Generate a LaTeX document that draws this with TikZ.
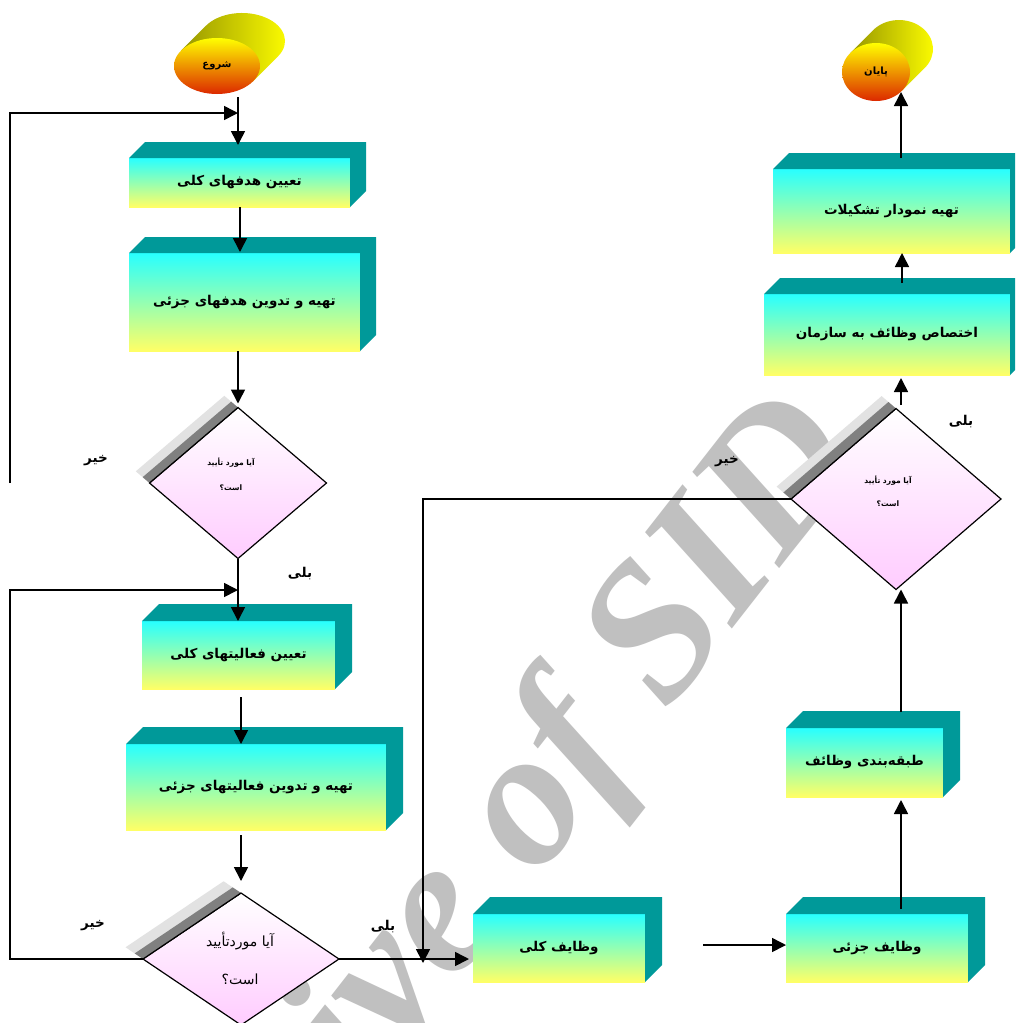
\documentclass[tikz,border=0pt]{standalone}
\usepackage{fontspec}
\usetikzlibrary{arrows.meta,calc,shapes.geometric}
\TeXXeTstate=1
\newfontfamily\arabicfont[Script=Arabic]{DejaVu Sans}
\newfontfamily\wmfont{Liberation Serif}
\definecolor{teal3d}{RGB}{0,153,153}
\definecolor{cyanT}{RGB}{40,255,255}
\definecolor{yelB}{RGB}{255,255,102}
\definecolor{pinkB}{RGB}{255,204,255}
\definecolor{shdark}{RGB}{128,128,128}
\definecolor{shlight}{RGB}{226,226,226}
\definecolor{wmgray}{RGB}{192,192,192}
\definecolor{olivec}{RGB}{150,150,0}
\definecolor{cylyel}{RGB}{255,255,0}
\definecolor{cylred}{RGB}{220,40,0}
\definecolor{cylorange}{RGB}{245,195,0}
\newcommand{\myboxfont}{\arabicfont\bfseries\fontsize{13.5}{15}\selectfont}
\newcommand{\mydiafont}{\arabicfont\bfseries\fontsize{7.6}{25}\selectfont}
\newcommand{\mydiafontb}{\arabicfont\fontsize{14}{38}\selectfont}
\newcommand{\mydiafontc}{\arabicfont\bfseries\fontsize{7.6}{23}\selectfont}
\newcommand{\faces}[2]{%
  \fill[teal3d] (#1.north west) -- ++(#2,-#2) -- ($(#1.north east)+(#2,-#2)$)
    -- ($(#1.south east)+(#2,-#2)$) -- (#1.south east) -- (#1.north east) -- cycle;}
\newcommand{\diashadow}[3]{%
  \fill[shlight] (#1.west) -- (#1.north) -- ($(#1.north)!-#3pt!(#1.east)$) -- ($(#1.west)!-#3pt!(#1.south)$) -- cycle;
  \fill[shdark] (#1.west) -- (#1.north) -- ($(#1.north)!-#2pt!(#1.east)$) -- ($(#1.west)!-#2pt!(#1.south)$) -- cycle;
  \draw[line width=1.2pt] (#1.west) -- (#1.north);}
\begin{document}
\begin{tikzpicture}[x=1pt,y=-1pt,
  arr/.style={line width=1.6pt, black, -{Triangle[length=14pt,width=14pt]}},
  plain/.style={line width=1.6pt, black},
  frontbox/.style={inner sep=0pt, outer sep=0pt, top color=cyanT, bottom color=yelB, font=\myboxfont, text=black},
  dia/.style={diamond, inner sep=0pt, outer sep=0pt, top color=white, bottom color=pinkB, draw=black, line width=1.2pt},
  lbl/.style={font=\myboxfont, inner sep=0pt},
  cylfront/.style={ellipse, inner sep=0pt, outer sep=0pt, top color=cylyel, middle color=cylorange, bottom color=cylred, font=\arabicfont\bfseries\fontsize{10}{12}\selectfont}]
\useasboundingbox (0,0) rectangle (1015,1023);
\clip (0,0) rectangle (1015,1023);
\fill[white] (0,0) rectangle (1015,1023);

% watermark
\node[rotate=52, text=wmgray, inner sep=0pt, font=\wmfont\bfseries\itshape\fontsize{195}{195}\selectfont] (wm) at (456,905) {Archive of SID};

% start cylinder
\shade[left color=olivec, right color=cylyel] ($(217,66)+(-36,-15.3)$) -- ($(242,41)+(-36,-15.3)$) arc[start angle=213.1, end angle=393.1, x radius=43, y radius=28] -- ($(217,66)+(36,15.3)$) -- cycle;
\node[cylfront, minimum width=86pt, minimum height=56pt] (start) at (217,66) {\beginR شروع\endR};

% end cylinder
\shade[left color=olivec, right color=cylyel] ($(876,72)+(-25.9,-18.8)$) -- ($(899,49)+(-25.9,-18.8)$) arc[start angle=220.46, end angle=400.46, x radius=34, y radius=29] -- ($(876,72)+(25.9,18.8)$) -- cycle;
\node[cylfront, minimum width=68pt, minimum height=58pt] (end) at (876,72) {\beginR پایان\endR};

% boxes
\node[frontbox, minimum width=221pt, minimum height=49pt] (b1) at (239.5,182.5) {\beginR تعیین هدفهای کلی\endR};
\faces{b1}{16}
\node[frontbox, minimum width=231pt, minimum height=98pt] (b2) at (244.5,302) {\beginR تهیه و تدوین هدفهای جزئی\endR};
\faces{b2}{16}
\node[frontbox, minimum width=193pt, minimum height=68pt] (b3) at (238.5,655) {\beginR تعیین فعالیتهای کلی\endR};
\faces{b3}{17}
\node[frontbox, minimum width=260pt, minimum height=86pt] (b4) at (256,787) {\beginR تهیه و تدوین فعالیتهای جزئی\endR};
\faces{b4}{17}
\node[frontbox, minimum width=172pt, minimum height=68pt] (b5) at (559,948) {\beginR وظایف کلی\endR};
\faces{b5}{17}
\node[frontbox, minimum width=182pt, minimum height=68pt] (b6) at (877,948) {\beginR وظایف جزئی\endR};
\faces{b6}{17}
\node[frontbox, minimum width=157pt, minimum height=69pt] (b7) at (864.5,762.5) {\beginR طبقه‌بندی وظائف\endR};
\faces{b7}{17}
\node[frontbox, minimum width=246pt, minimum height=81pt] (b8) at (887,334.5) {\beginR اختصاص وظائف به سازمان\endR};
\faces{b8}{16}
\node[frontbox, minimum width=237pt, minimum height=84pt] (b9) at (891.5,211) {\beginR تهیه نمودار تشکیلات\endR};
\faces{b9}{16}

% diamonds
\node[dia, minimum width=177pt, minimum height=151pt] (d1) at (238,483) {};
\diashadow{d1}{9}{18}
\node[font=\mydiafont, align=center, inner sep=0pt] (t1) at (231,474) {\beginR آیا مورد تأیید\endR\\\beginR است؟\endR};
\node[dia, minimum width=196pt, minimum height=132pt] (d2) at (241,959) {};
\diashadow{d2}{10}{21}
\node[font=\mydiafontb, align=center, inner sep=0pt] (t2) at (240,958) {\beginR آیا موردتأیید\endR\\\beginR است؟\endR};
\node[dia, minimum width=210pt, minimum height=181pt] (d3) at (896,499) {};
\diashadow{d3}{10}{19}
\node[font=\mydiafontc, align=center, inner sep=0pt] (t3) at (888,491) {\beginR آیا مورد تأیید\endR\\\beginR است؟\endR};

% connector end points
\coordinate (s0) at (238,97);
\coordinate (lp1a) at (10,483);
\coordinate (lp1b) at (10,113);
\coordinate (lp2) at (10,590);
\coordinate (c34) at (241,697);
\coordinate (c4d) at (241,835);
\coordinate (c4e) at (241,881);
\coordinate (c3) at (423,963);
\coordinate (c56) at (703,945);
\coordinate (c67) at (901,909);
\coordinate (c7) at (901,712);
\coordinate (c38) at (901,405);
\coordinate (c89) at (902,283);
\coordinate (c9e) at (901,158);
\coordinate (e9) at (901,92);

% connectors
\draw[arr] (s0) -- (238,145);
\draw[arr] (lp1a) -- (lp1b) -- (lp1b -| s0);
\draw[arr] (b1.south -| 240,0) -- (240,252);
\draw[arr, shorten >=4pt] (b2.south -| d1.north) -- (d1.north);
\draw[arr] (d1.south) -- (d1.south |- b3.north);
\draw[arr] (d2.west) -| (lp2) -- (lp2 -| d1.south);
\draw[arr] (c34) -- (c34 |- b4.north);
\draw[arr] (c4d) -- (c4e);
\draw[arr, shorten >=4pt] (d2.east) -- (d2.east -| b5.west);
\draw[plain] (d3.west) -| ($(c3)+(0,-10)$);
\draw[arr] ($(c3)+(0,-12)$) -- (c3);
\draw[arr] (c56) -- (c56 -| b6.west);
\draw[arr, shorten >=3pt] (c67) -- (c67 |- b7.south);
\draw[arr] (c7) -- (c7 |- d3.south);
\draw[arr, shorten >=3pt] (c38) -- (c38 |- b8.south);
\draw[arr] (c89) -- (c89 |- b9.south);
\draw[arr] (c9e) -- (e9);

% labels
\node[lbl] (no1) at (96,461) {\beginR خیر\endR};
\node[lbl] (yes1) at (300,574) {\beginR بلی\endR};
\node[lbl] (no2) at (93,926) {\beginR خیر\endR};
\node[lbl] (yes2) at (383,927) {\beginR بلی\endR};
\node[lbl] (yes3) at (961,422) {\beginR بلی\endR};
\node[lbl] (no3) at (727,462) {\beginR خیر\endR};
\end{tikzpicture}
\end{document}
